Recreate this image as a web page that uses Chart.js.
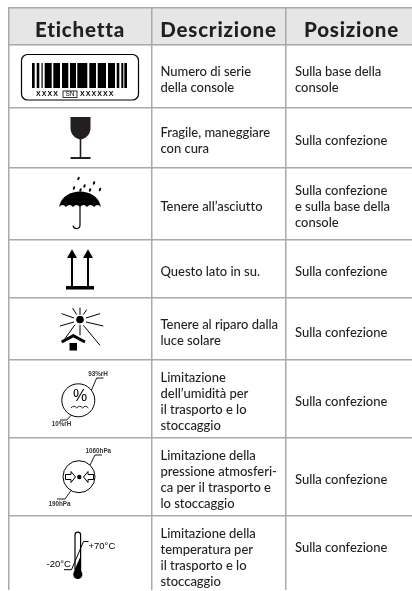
<!DOCTYPE html>
<html><head><meta charset="utf-8">
<style>html,body{margin:0;padding:0;background:#fff}canvas{display:block}</style>
<script src="https://cdn.jsdelivr.net/npm/chart.js@4"></script>
</head><body><canvas id="c" width="412" height="591"></canvas>
<script>
const columnHeaders = ["Etichetta","Descrizione","Posizione"];
const columnEdges = [8.5,151.5,285.5];
const rowEdges = [7.5,45,108,168,239.5,297.5,360,438,515.5];
const descriptions = [
 ["Numero di serie","della console"],
 ["Fragile, maneggiare","con cura"],
 ["Tenere all’asciutto"],
 ["Questo lato in su."],
 ["Tenere al riparo dalla","luce solare"],
 ["Limitazione","dell’umidità per","il trasporto e lo","stoccaggio"],
 ["Limitazione della","pressione atmosferi-","ca per il trasporto e","lo stoccaggio"],
 ["Limitazione della","temperatura per","il trasporto e lo","stoccaggio"]
];
const positions = [
 ["Sulla base della","console"],
 ["Sulla confezione"],
 ["Sulla confezione","e sulla base della","console"],
 ["Sulla confezione"],
 ["Sulla confezione"],
 ["Sulla confezione"],
 ["Sulla confezione"],
 ["Sulla confezione"]
];
const rowTextCentres = [80,140.5,206.5,272,332.5,402,480,557.5];
const positionCentres = [80,141,206.5,272,333,402,479.5,548];
const ink = "#231f20";

const tablePlugin = {
 id:"table",
 afterDatasetsDraw(chart){
  const c = chart.ctx, X = v=>chart.scales.x.getPixelForValue(v), Y = v=>chart.scales.y.getPixelForValue(v);
  c.save();
  c.fillStyle = ink; c.textBaseline = "middle";
  // header
  c.font = "900 20.5px Lato"; c.textAlign = "center"; c.letterSpacing = "0.8px";
  const hx = [80,218.5,351.5];
  columnHeaders.forEach((t,i)=>c.fillText(t,X(hx[i]),Y(30)));
  // body
  c.font = "500 13px Lato"; c.textAlign = "left"; c.letterSpacing = "-0.03px";
  const block = (lines,x,cy)=>lines.forEach((t,i)=>c.fillText(t,X(x),Y(cy+(i-(lines.length-1)/2)*16)));
  descriptions.forEach((l,i)=>block(l,160.5,rowTextCentres[i]));
  positions.forEach((l,i)=>block(l,295,positionCentres[i]));
  const line = (pts,w=1)=>{c.lineWidth=w;c.beginPath();pts.forEach((p,i)=>i?c.lineTo(X(p[0]),Y(p[1])):c.moveTo(X(p[0]),Y(p[1])));c.stroke();};
  const poly = pts=>{c.beginPath();pts.forEach((p,i)=>i?c.lineTo(X(p[0]),Y(p[1])):c.moveTo(X(p[0]),Y(p[1])));c.closePath();c.fill();};
  const text = (t,x,y,font,align="center",sp="0px")=>{c.font=font;c.textAlign=align;c.letterSpacing=sp;c.fillText(t,X(x),Y(y));};
  c.strokeStyle = "#000"; c.fillStyle = "#000"; c.lineCap="butt";
  // barcode label
  c.lineWidth=1.2; c.beginPath(); c.roundRect(X(21.5),Y(54.5),117,45.5,6); c.stroke();
  [[32,34.7],[36.7,39.3],[41.5,42.7],[44.7,51.7],[53.3,60],[62,68.3],[70,76],[77.3,87.3],[89.3,96],[97.7,106],[108,115],[116.7,119.3],[121.3,123.3],[124.3,127]]
   .forEach(b=>c.fillRect(X(b[0]),Y(63),b[1]-b[0],25));
  text("XXXX",36,94,"700 7px 'Liberation Sans'","left","1.1px");
  text("XXXXXX",80,94,"700 7px 'Liberation Sans'","left","1.1px");
  c.lineWidth=0.8; c.strokeRect(X(63),Y(91),14,6.5);
  text("SN",70,94.3,"400 6.5px 'Liberation Sans'");
  // glass
  c.fillStyle=ink; c.beginPath();
  c.moveTo(X(70.5),Y(117));c.lineTo(X(90.5),Y(117));c.lineTo(X(90.5),Y(128));
  c.bezierCurveTo(X(90.5),Y(134),X(86),Y(139),X(80.5),Y(139.5));
  c.bezierCurveTo(X(75),Y(139),X(70.5),Y(134),X(70.5),Y(128));c.closePath();c.fill();
  c.fillRect(X(79.7),Y(139),1.6,18); c.fillRect(X(70.5),Y(157),20,2);
  c.fillStyle="#000";
  // umbrella
  c.beginPath();c.moveTo(X(59),Y(207));
  c.bezierCurveTo(X(61),Y(196),X(71),Y(191.5),X(80),Y(191.5));
  c.bezierCurveTo(X(89),Y(191.5),X(99),Y(196),X(101),Y(207));
  [94,87,80,73,66,59].forEach(v=>c.quadraticCurveTo(X(v+3.5),Y(203),X(v),Y(207)));
  c.closePath();c.fill();
  c.lineWidth=1.2;c.beginPath();c.moveTo(X(80),Y(200));c.lineTo(X(80),Y(225));
  c.arc(X(76.5),Y(225),3.5,0,Math.PI*0.95);c.stroke();
  [[78.5,178.5],[84.5,186],[94,183],[74,188],[90,190],[100,189.5],[80.5,190]].forEach(d=>{
   c.beginPath();c.ellipse(X(d[0]),Y(d[1]),1,1.8,0.4,0,Math.PI*2);c.fill();});
  // this way up
  [72,88].forEach(x=>{poly([[x,249.3],[x+5,258],[x-5,258]]);c.fillRect(X(x-1),Y(257),2,29);});
  c.fillRect(X(66),Y(286),28,3.5);
  // sun
  const sp=(a,b)=>[a/3+50,b/3+242];
  c.beginPath();c.arc(X(80),Y(319.5),3.8,0,7);c.fill();
  [[[90,197],[90,218]],[[68,198],[80,218]],[[110,203],[100,218]],[[35,215],[72,228]],[[150,215],[108,228]],
   [[30,252],[72,240]],[[160,252],[108,240]],[[45,290],[75,248]],[[150,310],[100,250]],[[90,248],[90,280]]]
   .forEach(r=>line([sp(r[0][0],r[0][1]),sp(r[1][0],r[1][1])],1));
  line([sp(35,300),sp(70,281),sp(105,300)],3);
  c.fillRect(X(69.5),Y(343),7.5,7.5);
  // humidity
  c.lineWidth=1;c.beginPath();c.arc(X(78.3),Y(400.3),16.5,0,7);c.stroke();
  line([[91.5,390],[96.7,378],[103.5,378]],.9);
  line([[71.5,415],[66.7,420],[60,420]],.9);
  c.fillStyle="#333";
  text("93%rH",98,374,"700 6.3px 'Liberation Sans'");
  text("10%rH",61.5,424.5,"700 6.3px 'Liberation Sans'");
  c.fillStyle="#000";
  text("%",80,396.5,"400 16px 'Liberation Sans'");
  c.lineWidth=.9;c.beginPath();c.moveTo(X(71),Y(408));
  [76.8,82.6,88.4].forEach(v=>{c.quadraticCurveTo(X(v-2.9),Y(404.5),X(v),Y(408));});c.stroke();
  // pressure
  c.lineWidth=1;c.beginPath();c.arc(X(79),Y(476.7),16,0,7);c.stroke();
  line([[90,465],[95,455],[102,455]],.9);
  line([[71,490.5],[65,499],[57,499]],.9);
  c.fillStyle="#333";
  text("1060hPa",98.3,451,"700 6.3px 'Liberation Sans'");
  text("190hPa",59.5,504,"700 6.3px 'Liberation Sans'");
  c.fillStyle="#000";
  line([[65.5,474.5],[71,474.5],[71,471.5],[75.5,477],[71,482.5],[71,479.5],[65.5,479.5],[65.5,474.5]],1);
  line([[93.5,474.5],[88,474.5],[88,471.5],[83.5,477],[88,482.5],[88,479.5],[93.5,479.5],[93.5,474.5]],1);
  c.beginPath();c.arc(X(79.3),Y(477),2.2,0,7);c.fill();
  // thermometer
  c.lineWidth=1.2;c.beginPath();c.moveTo(X(75),Y(572));c.lineTo(X(75),Y(535));c.arc(X(77.8),Y(535),2.8,Math.PI,0);c.lineTo(X(80.6),Y(572));c.stroke();
  poly([[75,569],[80.6,556],[80.6,573],[75,573]]);
  c.beginPath();c.arc(X(77.8),Y(574.5),4.6,0,7);c.fill();
  line([[88.5,541.5],[83.5,541.5],[71.5,569.7],[64,569.7]],1);
  text("+70°C",88.5,546,"400 9.5px 'Liberation Sans'","left");
  text("-20°C",46.5,564.7,"400 9.5px 'Liberation Sans'","left");
  c.restore();
 }
};

new Chart(document.getElementById("c"),{
 data:{datasets:[{
  type:"bar",
  label:"header",
  data:[{x:[8,412],y:26.25}],
  backgroundColor:"#e6e6e6",
  barThickness:38,
  borderWidth:0,
  indexAxis:"y"
 }]},
 options:{
  indexAxis:"y",
  responsive:false,animation:false,
  parsing:{xAxisKey:"x",yAxisKey:"y"},
  layout:{padding:{left:8,top:7,right:0,bottom:1}},
  plugins:{legend:{display:false},title:{display:false},tooltip:{enabled:false}},
  scales:{
   x:{type:"linear",min:8,max:412,offset:false,position:"top",
      afterBuildTicks:s=>{s.ticks=columnEdges.map(v=>({value:v}));},
      ticks:{display:false},border:{display:false},
      grid:{color:"#aaa",lineWidth:1.5,drawTicks:false,z:1,offset:false}},
   y:{type:"linear",min:7,max:590,reverse:true,offset:false,
      afterBuildTicks:s=>{s.ticks=rowEdges.map(v=>({value:v}));},
      ticks:{display:false},border:{display:false},
      grid:{color:"#aaa",lineWidth:1.5,drawTicks:false,z:1,offset:false}}
  }
 },
 plugins:[tablePlugin]
});
</script></body></html>
